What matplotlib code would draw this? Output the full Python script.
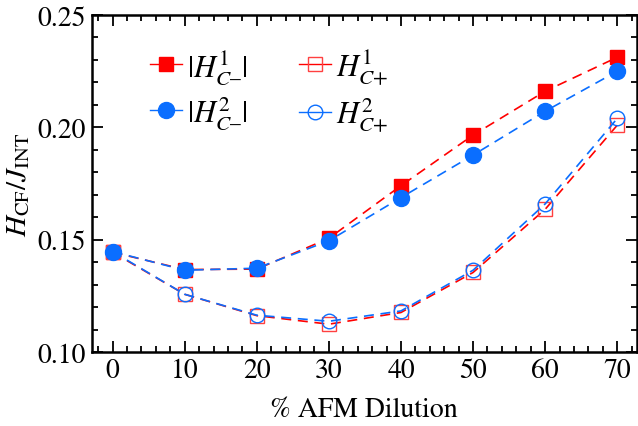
import matplotlib
matplotlib.use("Agg")
import matplotlib.pyplot as plt
from matplotlib.ticker import MultipleLocator

plt.rcParams['font.family'] = ['STIXGeneral', 'DejaVu Serif']
plt.rcParams['mathtext.fontset'] = 'stix'

dilution = [0, 10, 20, 30, 40, 50, 60, 70]
h1_minus = [0.1445, 0.1368, 0.1370, 0.1507, 0.1741, 0.1966, 0.2161, 0.2312]
h2_minus = [0.1448, 0.1365, 0.1374, 0.1496, 0.1688, 0.1877, 0.2072, 0.2250]
h1_plus = [0.1445, 0.1258, 0.1163, 0.1125, 0.1177, 0.1355, 0.1636, 0.2010]
h2_plus = [0.1448, 0.1258, 0.1165, 0.1138, 0.1184, 0.1365, 0.1660, 0.2040]

red = '#FF0000'
blue = '#0A6EFF'

fig = plt.figure(figsize=(6.38, 4.27), dpi=100)
ax = fig.add_axes([0.1437, 0.1726, 0.998 - 0.1437, 0.9625 - 0.1726])

dash = (0, (6, 4))
ax.plot(dilution, h1_minus, color=red, ls=dash, lw=1.2, marker='s', ms=10,
        mfc=red, mec=red, label='$|H^1_{C\u2013}|$', zorder=3)
ax.plot(dilution, h2_minus, color=blue, ls=dash, lw=1.2, marker='o', ms=11.5,
        mfc=blue, mec=blue, label='$|H^2_{C\u2013}|$', zorder=4)
ax.plot(dilution, h1_plus, color=red, ls=dash, lw=1.2, marker='s', ms=9.5,
        mfc='none', mec='#FF4040', mew=1.0, label=r'$H^1_{C\text{+}}$', zorder=3)
ax.plot(dilution, h2_plus, color=blue, ls=dash, lw=1.2, marker='o', ms=10.5,
        mfc='none', mec=blue, mew=1.0, label=r'$H^2_{C\text{+}}$', zorder=4)

ax.set_xlim(-2.9, 72.7)
ax.set_ylim(0.10, 0.25)
ax.xaxis.set_major_locator(MultipleLocator(10))
ax.xaxis.set_minor_locator(MultipleLocator(2))
ax.yaxis.set_major_locator(MultipleLocator(0.05))
ax.yaxis.set_minor_locator(MultipleLocator(0.01))
ax.yaxis.set_major_formatter(plt.FormatStrFormatter('%.2f'))
ax.tick_params(which='both', direction='in', top=True, right=True,
               labelsize=20, width=1.3)
ax.tick_params(which='major', length=8, pad=4)
ax.tick_params(which='minor', length=4)
for s in ax.spines.values():
    s.set_linewidth(1.8)

ax.set_xlabel('% AFM Dilution', fontsize=20, labelpad=10)
ax.set_ylabel(r'$H_{\mathrm{CF}}/J_{\mathrm{INT}}$', fontsize=21, labelpad=4)

handles, labels = ax.get_legend_handles_labels()
leg = ax.legend(handles, labels,
                ncol=2, loc='upper left', bbox_to_anchor=(0.107, 0.905),
                frameon=False, fontsize=22, handlelength=1.05,
                handletextpad=0.15, columnspacing=1.7, labelspacing=0.28,
                borderpad=0, borderaxespad=0)
for lh in leg.get_lines():
    lh.set_linestyle('-')
    lh.set_linewidth(1.0)

fig.savefig('out.png', dpi=100)
